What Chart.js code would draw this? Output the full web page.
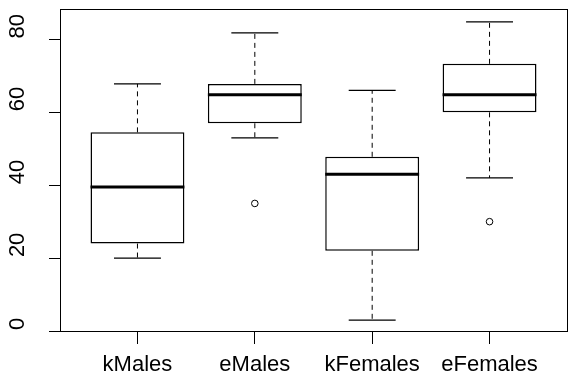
<!DOCTYPE html>
<html>
<head>
<meta charset="utf-8">
<script src="https://cdn.jsdelivr.net/npm/chart.js@4"></script>
<style>
  html, body { margin: 0; padding: 0; background: #fff; overflow: hidden; }
  #wrap { width: 568px; height: 378px; overflow: hidden; }
</style>
</head>
<body>
<div id="wrap"><canvas id="chart" width="572" height="378"></canvas></div>
<script>
// values
const groups = ["kMales", "eMales", "kFemales", "eFemales"];
const lowWhisker = [20, 53, 3, 42];
const q1 = [24, 57, 22, 60];
const median = [39.5, 64.8, 43, 64.8];
const q3 = [54.5, 67.8, 47.8, 73.3];
const highWhisker = [67.8, 81.8, 66, 84.8];
const outliers = [[], [35], [], [30]];
const yTicks = [0, 20, 40, 60, 80];

Chart.defaults.font.family = "'Liberation Sans', Arial, sans-serif";
Chart.defaults.color = "#000";

const ctx = document.querySelector("#chart").getContext("2d");

// R style axis limits: data range widened by 4%
const allValues = lowWhisker.concat(highWhisker, outliers.flat());
const lo = Math.min(...allValues);
const hi = Math.max(...allValues);
const yPad = (hi - lo) * 0.04;

const boxHalf = 0.4;
const capHalf = 0.2;

// segments joined with null gaps
function segments(list) {
  const out = [];
  list.forEach(s => {
    out.push({ x: s[0], y: s[1] }, { x: s[2], y: s[3] }, { x: s[2], y: null });
  });
  return out;
}

const whiskers = segments(groups.flatMap((g, i) => [
  [i + 1, q3[i], i + 1, highWhisker[i]],
  [i + 1, q1[i], i + 1, lowWhisker[i]]
]));
const caps = segments(groups.flatMap((g, i) => [
  [i + 1 - capHalf, highWhisker[i], i + 1 + capHalf, highWhisker[i]],
  [i + 1 - capHalf, lowWhisker[i], i + 1 + capHalf, lowWhisker[i]]
]));
const medians = segments(groups.map((g, i) =>
  [i + 1 - boxHalf, median[i], i + 1 + boxHalf, median[i]]
));
const outlierPoints = groups.flatMap((g, i) => outliers[i].map(v => ({ x: i + 1, y: v })));

const rAxes = {
  id: "rAxes",
  afterDraw(chart) {
    const c = chart.ctx;
    const a = chart.chartArea;
    c.save();
    c.strokeStyle = "#000";
    c.lineWidth = 1;
    c.strokeRect(a.left + 0.5, a.top - 0.5, a.right - a.left, a.bottom - a.top);
    // rotated y labels like R (las = 0)
    const y = chart.scales.y;
    c.fillStyle = "#000";
    c.font = "22px 'Liberation Sans', Arial, sans-serif";
    c.textAlign = "left";
    c.textBaseline = "alphabetic";
    yTicks.forEach(v => {
      c.save();
      c.translate(23.5, y.getPixelForValue(v) - 1);
      c.rotate(-Math.PI / 2);
      c.fillText(String(v), 0, 0);
      c.restore();
    });
    c.restore();
  }
};

new Chart(ctx, {
  type: "bar",
  data: {
    datasets: [
      {
        label: "box",
        data: groups.map((g, i) => ({ x: i + 1, y: [q1[i], q3[i]] })),
        backgroundColor: "#fff",
        borderColor: "#000",
        borderWidth: 1.5,
        borderSkipped: false,
        barPercentage: boxHalf * 2,
        categoryPercentage: 1,
        order: 3
      },
      {
        type: "line",
        label: "whiskers",
        data: whiskers,
        borderColor: "#000",
        borderWidth: 1,
        borderDash: [5, 4],
        pointRadius: 0,
        spanGaps: false,
        order: 2
      },
      {
        type: "line",
        label: "caps",
        data: caps,
        borderColor: "#000",
        borderWidth: 1.2,
        pointRadius: 0,
        spanGaps: false,
        order: 2
      },
      {
        type: "line",
        label: "medians",
        data: medians,
        borderColor: "#000",
        borderWidth: 3,
        borderCapStyle: "butt",
        pointRadius: 0,
        spanGaps: false,
        order: 1
      },
      {
        type: "scatter",
        label: "outliers",
        data: outlierPoints,
        pointStyle: "circle",
        pointRadius: 3.3,
        pointBackgroundColor: "rgba(0,0,0,0)",
        pointBorderColor: "#000",
        pointBorderWidth: 1,
        showLine: false,
        order: 1
      }
    ]
  },
  options: {
    responsive: false,
    animation: false,
    devicePixelRatio: 1,
    layout: { padding: { top: 10, right: 0, bottom: 0, left: 0 } },
    plugins: { legend: { display: false }, tooltip: { enabled: false } },
    scales: {
      x: {
        type: "linear",
        min: 0.34,
        max: 4.66,
        offset: false,
        border: { display: false },
        grid: { offset: false, drawOnChartArea: false, drawTicks: true, tickLength: 12, color: "#000" },
        ticks: {
          autoSkip: false,
          maxRotation: 0,
          padding: 8,
          font: { size: 22 },
          color: "#000",
          callback: v => groups[v - 1]
        },
        afterBuildTicks: s => { s.ticks = groups.map((g, i) => ({ value: i + 1 })); },
        afterFit: s => { s.height = 46; }
      },
      y: {
        min: lo - yPad,
        max: hi + yPad,
        border: { display: false },
        grid: { drawOnChartArea: false, drawTicks: true, tickLength: 11, color: "#000" },
        ticks: { display: false },
        afterBuildTicks: s => { s.ticks = yTicks.map(v => ({ value: v })); },
        afterFit: s => { s.width = 60; }
      }
    }
  },
  plugins: [rAxes]
});
</script>
</body>
</html>
